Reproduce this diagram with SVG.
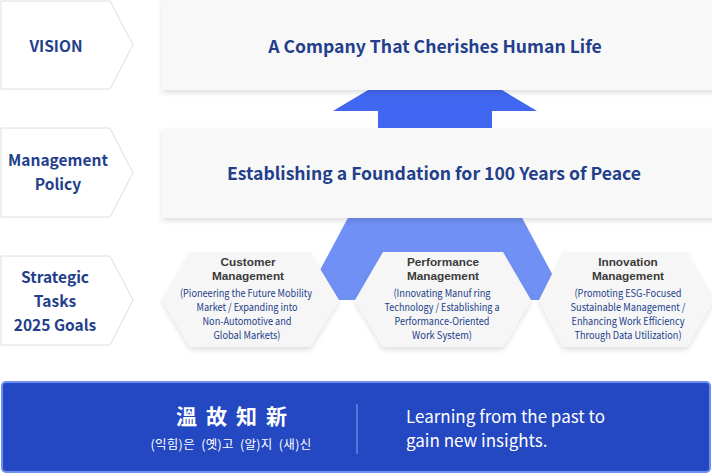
<svg xmlns="http://www.w3.org/2000/svg" width="712" height="476" viewBox="0 0 712 476">
<defs>
<filter id="sh" x="-10%" y="-20%" width="120%" height="150%">
<feDropShadow dx="0" dy="3" stdDeviation="2.5" flood-color="#000" flood-opacity="0.12"/>
</filter>
<style>
.lbl{fill:#fff;stroke:#dedede;stroke-width:1}
.lt{font-family:"Noto Sans CJK KR","Noto Sans",sans-serif;font-weight:700;font-size:15.5px;fill:#233e8b;text-anchor:middle}
.box{fill:#f8f8f8}
.bt{font-family:"Noto Sans CJK KR","Noto Sans",sans-serif;font-weight:700;font-size:17.6px;fill:#233e8b;text-anchor:middle}
.hex{fill:#f6f6f6}
.ht{font-family:"Liberation Sans",Arial,sans-serif;font-weight:700;font-size:11.8px;fill:#3a3a3a;text-anchor:middle}
.hd{font-family:"Noto Sans CJK KR","Noto Sans",sans-serif;font-size:10.5px;fill:#233e8b;text-anchor:middle}
.w{font-family:"Noto Sans CJK KR","Noto Sans",sans-serif;fill:#fff}
</style>
</defs>
<rect width="712" height="476" fill="#fff"/>

<g id="connectors">
<polygon points="333,111 378,111 378,132 492,132 492,111 537,111 435,50" fill="#4167f2"/>
<polygon points="350,214 520,214 566,300 304,300" fill="#7090f5"/>
</g>

<g id="label-vision">
<polygon class="lbl" points="1,1 110,1 133,45 110,89 1,89"/>
<text class="lt" x="56" y="52">VISION</text>
</g>
<g id="label-policy">
<polygon class="lbl" points="1,128 110,128 133,173 110,217 1,217"/>
<text class="lt" x="58" y="166">Management</text>
<text class="lt" x="58" y="190">Policy</text>
</g>
<g id="label-tasks">
<polygon class="lbl" points="1,256 110,256 133,300 110,345 1,345"/>
<text class="lt" x="55" y="283">Strategic</text>
<text class="lt" x="55" y="307">Tasks</text>
<text class="lt" x="55" y="331">2025 Goals</text>
</g>

<g id="vision">
<rect class="box" x="162" y="-2" width="552" height="92" filter="url(#sh)"/>
<text class="bt" x="435" y="53">A Company That Cherishes Human Life</text>
</g>
<g id="policy">
<rect class="box" x="162" y="128" width="552" height="90" filter="url(#sh)"/>
<text class="bt" x="434" y="180">Establishing a Foundation for 100 Years of Peace</text>
</g>

<g id="customer">
<polygon class="hex" points="190,252 310,252 339,300 310,347 190,347 162,300" filter="url(#sh)"/>
<text class="ht"><tspan x="248" y="266">Customer</tspan><tspan x="248" y="280">Management</tspan></text>
<text class="hd" x="246" y="297" textLength="132" lengthAdjust="spacingAndGlyphs">(Pioneering the Future Mobility</text>
<text class="hd" x="247" y="311" textLength="101" lengthAdjust="spacingAndGlyphs">Market / Expanding into</text>
<text class="hd" x="247" y="325" textLength="89" lengthAdjust="spacingAndGlyphs">Non-Automotive and</text>
<text class="hd" x="247" y="339" textLength="67" lengthAdjust="spacingAndGlyphs">Global Markets)</text>
</g>
<g id="performance">
<polygon class="hex" points="383,252 503,252 531,300 503,347 383,347 355,300" filter="url(#sh)"/>
<text class="ht"><tspan x="443" y="266">Performance</tspan><tspan x="443" y="280">Management</tspan></text>
<text class="hd" x="442" y="297" textLength="97" lengthAdjust="spacingAndGlyphs">(Innovating Manuf ring</text>
<text class="hd" x="442" y="311" textLength="115" lengthAdjust="spacingAndGlyphs">Technology / Establishing a</text>
<text class="hd" x="442" y="325" textLength="95" lengthAdjust="spacingAndGlyphs">Performance-Oriented</text>
<text class="hd" x="442" y="339" textLength="60" lengthAdjust="spacingAndGlyphs">Work System)</text>
</g>
<g id="innovation">
<polygon class="hex" points="563,252 687,252 714,300 687,347 563,347 539,300" filter="url(#sh)"/>
<text class="ht"><tspan x="628" y="266">Innovation</tspan><tspan x="628" y="280">Management</tspan></text>
<text class="hd" x="628" y="297" textLength="107" lengthAdjust="spacingAndGlyphs">(Promoting ESG-Focused</text>
<text class="hd" x="628" y="311" textLength="115" lengthAdjust="spacingAndGlyphs">Sustainable Management /</text>
<text class="hd" x="628" y="325" textLength="113" lengthAdjust="spacingAndGlyphs">Enhancing Work Efficiency</text>
<text class="hd" x="628" y="339" textLength="107" lengthAdjust="spacingAndGlyphs">Through Data Utilization)</text>
</g>

<g id="motto">
<rect x="2" y="382" width="708" height="90" rx="4" fill="#2447c2" stroke="#6d8ff0" stroke-width="2"/>
<text class="w" x="236" y="424" font-size="21" font-weight="700" text-anchor="middle" letter-spacing="9" fill="#e9edff">溫故知新</text>
<text class="w" x="231" y="449" font-size="12.5" text-anchor="middle" letter-spacing="0.3" fill="#dfe5ff" xml:space="preserve">(익힘)은  (옛)고  (알)지  (새)신</text>
<line x1="357" y1="404" x2="357" y2="454" stroke="#8aa2ee" stroke-width="1"/>
<text class="w" x="406" y="423" font-size="17">Learning from the past to</text>
<text class="w" x="406" y="447" font-size="17">gain new insights.</text>
</g>
</svg>
